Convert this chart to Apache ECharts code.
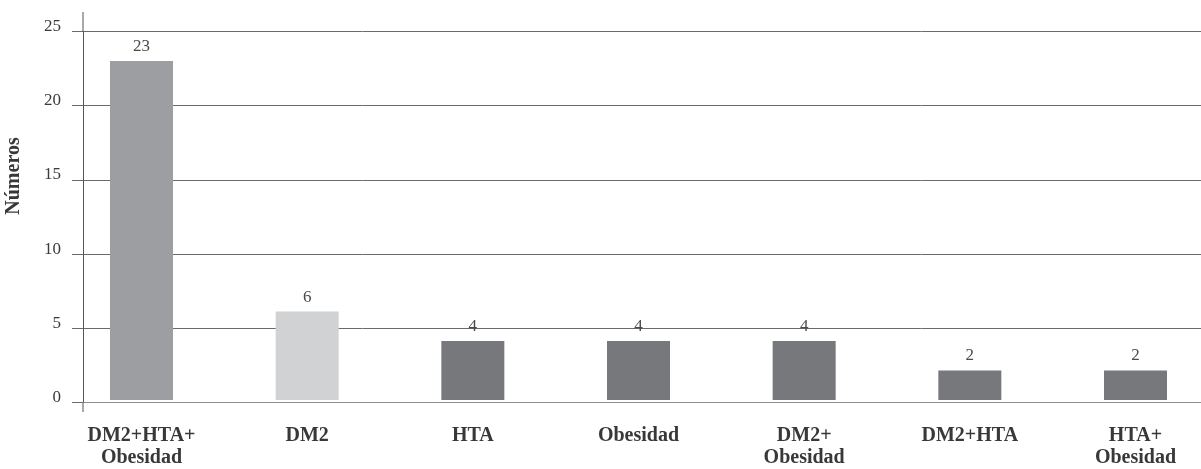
<!DOCTYPE html>
<html>
<head>
<meta charset="utf-8">
<title>Números por comorbilidad</title>
<script src="https://cdn.jsdelivr.net/npm/echarts@6/dist/echarts.min.js"></script>
<style>
  html, body { margin: 0; padding: 0; background: #fff; }
  #chart { width: 1201px; height: 469px; }
</style>
</head>
<body>
<div id="chart"></div>
<script>
// Categories and counts
const categories = ['DM2+HTA+\nObesidad', 'DM2', 'HTA', 'Obesidad', 'DM2+\nObesidad', 'DM2+HTA', 'HTA+\nObesidad'];
const counts = [23, 6, 4, 4, 4, 2, 2];
const barColors = ['#9d9ea2', '#d1d2d4', '#77787b', '#77787b', '#77787b', '#77787b', '#77787b'];
const yTicks = [0, 5, 10, 15, 20, 25];

const serif = '"Liberation Serif", "DejaVu Serif", serif';

// Plot frame
const axisX = 83;        // vertical axis position
const plotTop = 31.5;
const plotBottom = 402.5;
const firstCenter = 141.5; // centre of the first bar
const lastCenter = 1135.5; // centre of the last bar

const chart = echarts.init(document.getElementById('chart'), null, { renderer: 'canvas' });

chart.setOption({
  animation: false,
  backgroundColor: '#ffffff',
  grid: [
    // value scale, grid lines and axis lines
    { left: axisX, right: 0, top: plotTop, bottom: 469 - plotBottom, containLabel: false },
    // bars and category labels (categories sit on the grid edges)
    { left: firstCenter, right: 1201 - lastCenter, top: plotTop, bottom: 469 - plotBottom, containLabel: false }
  ],
  xAxis: [
    {
      gridIndex: 0, type: 'category', data: categories,
      axisLine: { show: true, lineStyle: { color: '#8f8f8f', width: 1 } },
      axisTick: { show: false }, axisLabel: { show: false }, splitLine: { show: false }
    },
    {
      gridIndex: 1, type: 'category', data: categories, boundaryGap: false,
      axisLine: { show: false }, axisTick: { show: false }, splitLine: { show: false },
      axisLabel: {
        interval: 0, margin: 25,
        fontFamily: serif, fontSize: 20, fontWeight: 'bold', color: '#383838', lineHeight: 22
      }
    }
  ],
  yAxis: [
    {
      gridIndex: 0, type: 'value', min: yTicks[0], max: yTicks[yTicks.length - 1], interval: 5,
      axisLine: { show: true, lineStyle: { color: '#555555', width: 1 } },
      axisTick: { show: true, inside: false, length: 11, lineStyle: { color: '#6a6a6a', width: 1 } },
      splitLine: { show: true, lineStyle: { color: '#6a6a6a', width: 1 } },
      axisLabel: {
        margin: 22, fontFamily: serif, fontSize: 17, color: '#3a3a3a',
        verticalAlign: 'bottom', lineHeight: 10
      }
    },
    {
      gridIndex: 1, type: 'value', min: yTicks[0], max: yTicks[yTicks.length - 1], interval: 5,
      show: false
    }
  ],
  series: [{
    type: 'bar',
    xAxisIndex: 1, yAxisIndex: 1,
    barWidth: 63,
    data: counts.map((v, i) => ({ value: v, itemStyle: { color: barColors[i] } })),
    label: {
      show: true, position: 'top', distance: 6,
      fontFamily: serif, fontSize: 17, color: '#4a4a4a'
    },
    z: 3
  }],
  graphic: [
    // vertical axis continues above the top grid line and below the baseline
    { type: 'line', shape: { x1: axisX, y1: 12, x2: axisX, y2: plotTop }, style: { stroke: '#555555', lineWidth: 1 }, z: 5 },
    { type: 'line', shape: { x1: axisX, y1: plotBottom, x2: axisX, y2: 412 }, style: { stroke: '#555555', lineWidth: 1 }, z: 5 },
    {
      type: 'text', x: 14, y: 176, rotation: Math.PI / 2,
      style: {
        text: 'Números', fontFamily: serif, fontSize: 20, fontWeight: 'bold',
        fill: '#383838', align: 'center', verticalAlign: 'middle'
      }
    }
  ]
});
</script>
</body>
</html>
